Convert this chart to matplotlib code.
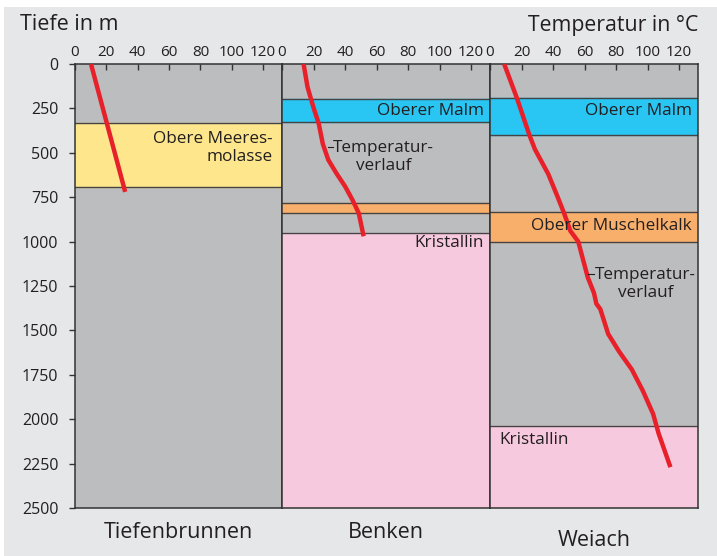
import matplotlib
matplotlib.use("Agg")
import matplotlib.pyplot as plt
from matplotlib.patches import Rectangle

plt.rcParams['font.family'] = ['Open Sans', 'DejaVu Sans']

# sites
sites = ["Tiefenbrunnen", "Benken", "Weiach"]

# temperature profiles (depth in m, temperature in C)
tb_depth = [0, 720]
tb_temp = [10.2, 32]

bk_depth = [0, 130, 240, 335, 450, 540, 615, 690, 765, 840, 970]
bk_temp = [13.7, 16.2, 19.8, 23.3, 25.9, 29.4, 34.5, 40.1, 44.7, 48.7, 51.8]

wh_depth = [0, 190, 400, 480, 620, 750, 840, 940, 1000, 1100, 1200, 1290,
            1350, 1380, 1520, 1620, 1720, 1840, 1970, 2080, 2270]
wh_temp = [9, 17, 25, 28.5, 37, 43, 47, 51, 56, 59, 62, 66,
           67.5, 70, 75, 82, 90, 97, 103.5, 107, 114.5]

# layers: top, bottom, kind
tb_layers = [(330, 695, "molasse")]
bk_layers = [(195, 328, "malm"), (785, 840, "muschelkalk"), (953, 2500, "kristallin")]
wh_layers = [(193, 400, "malm"), (832, 1003, "muschelkalk"), (2036, 2500, "kristallin")]

layer_colors = {"molasse": "#fde68c", "malm": "#29c5f3",
                "muschelkalk": "#f9af6c", "kristallin": "#f7c9de"}

depth_ticks = list(range(0, 2501, 250))
temp_ticks = [0, 20, 40, 60, 80, 100, 120]

txt = "#231f20"
gray = "#bcbdbf"
red = "#e8202a"

fig = plt.figure(figsize=(7.17, 5.56), dpi=100, facecolor="white")
fig.patches.append(Rectangle((4 / 717, 0), 1, 1 - 7 / 556, transform=fig.transFigure,
                             facecolor="#e6e7e8", edgecolor="none", zorder=-10))

W, H = 717, 556
lefts = [75, 282, 490]
widths = [207, 208, 208]
top, bottom = 64, 508

profiles = [(tb_depth, tb_temp, tb_layers), (bk_depth, bk_temp, bk_layers),
            (wh_depth, wh_temp, wh_layers)]
axes = []
for i, (d, t, layers) in enumerate(profiles):
    ax = fig.add_axes([lefts[i] / W, 1 - bottom / H, widths[i] / W, (bottom - top) / H])
    ax.set_facecolor(gray)
    ax.set_xlim(0, 132)
    ax.set_ylim(2500, 0)
    for (y0, y1, kind) in layers:
        ax.axhspan(y0, y1, color=layer_colors[kind], zorder=1)
        ax.axhline(y0, color="#444444", lw=1.0, zorder=2)
        if y1 < 2500:
            ax.axhline(y1, color="#444444", lw=1.0, zorder=2)
    ax.plot(t, d, color=red, lw=3.2, solid_capstyle="butt", zorder=5)
    ax.xaxis.tick_top()
    ax.set_xticks(temp_ticks)
    ax.tick_params(axis="x", direction="in", length=4, width=1, color="#333333",
                   labelsize=11, labelcolor=txt, pad=3)
    if i == 0:
        ax.set_yticks(depth_ticks)
        ax.tick_params(axis="y", direction="out", length=4, width=1, color="#333333",
                       labelsize=11.5, labelcolor=txt, pad=8)
    else:
        ax.set_yticks([])
    for s in ax.spines.values():
        s.set_color("#333333")
        s.set_linewidth(1.1)
    axes.append(ax)

ax1, ax2, ax3 = axes
lab = dict(fontsize=12.3, color=txt, zorder=6)

ax1.text(126, 475, "Obere Meeres-\nmolasse", ha="right", va="center",
         linespacing=1.15, **lab)

ax2.text(128, 262, "Oberer Malm", ha="right", va="center", **lab)
ax2.text(128, 1010, "Kristallin", ha="right", va="center", **lab)
ax2.plot([29, 32.5], [470, 470], color=txt, lw=0.8, zorder=6)
ax2.text(64.5, 525, "Temperatur-\nverlauf", ha="center", va="center",
         linespacing=1.15, **lab)

ax3.text(128, 262, "Oberer Malm", ha="right", va="center", **lab)
ax3.text(128, 912, "Oberer Muschelkalk", ha="right", va="center", **lab)
ax3.text(6, 2117, "Kristallin", ha="left", va="center", **lab)
ax3.plot([62.5, 66], [1183, 1183], color=txt, lw=0.8, zorder=6)
ax3.text(98.5, 1237, "Temperatur-\nverlauf", ha="center", va="center",
         linespacing=1.15, **lab)

fig.text(20 / W, 1 - 25 / H, "Tiefe in m", fontsize=15.5, color=txt, ha="left", va="center")
fig.text(698 / W, 1 - 25 / H, "Temperatur in °C", fontsize=15.3, color=txt,
         ha="right", va="center")

label_y = [533, 533, 540]
for i, name in enumerate(sites):
    fig.text((lefts[i] + widths[i] / 2) / W, 1 - label_y[i] / H, name,
             fontsize=15.5, color=txt, ha="center", va="center")

fig.savefig("out.png", dpi=100, facecolor=fig.get_facecolor())
